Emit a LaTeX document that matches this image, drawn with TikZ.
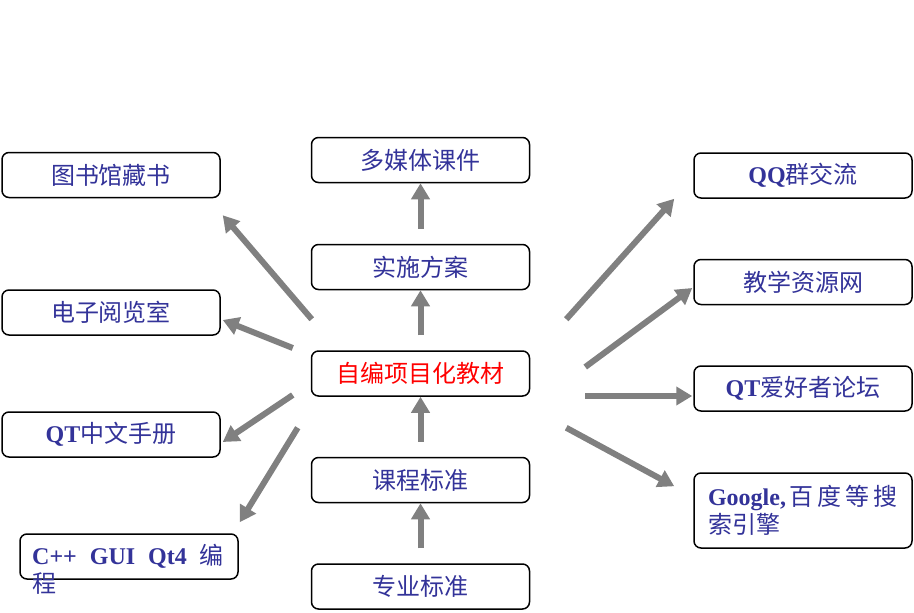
\documentclass[tikz,border=0pt]{standalone}
\usepackage{fontspec}
\setmainfont{Liberation Serif}
\newfontfamily\cjk{Noto Sans CJK SC}
\usetikzlibrary{arrows.meta}
\definecolor{txtblue}{RGB}{51,51,153}
\definecolor{arrowgray}{RGB}{128,128,128}
\newcommand{\zh}[1]{{\cjk #1}}
\newcommand{\en}[1]{{\bfseries #1}}
\tikzset{
  box/.style={rectangle, draw=black, line width=1.5pt, rounded corners=7pt,
    fill=white, minimum width=218pt, minimum height=45pt, inner sep=0,
    font=\fontsize{24}{28}\selectfont, text=txtblue},
  boxtext/.style={inner sep=0, font=\fontsize{24}{28}\selectfont, text=txtblue},
  feed/.style={draw=arrowgray, line width=6pt, -{Triangle[length=16pt, width=18pt]}},
}
\begin{document}
\begin{tikzpicture}[x=1pt, y=-1pt]
  \useasboundingbox (0,0) rectangle (914,613);

  % middle column
  \node[box] (mmcw) at (420.5,160) {\zh{多媒体课件}};
  \node[box] (plan) at (420.5,267) {\zh{实施方案}};
  \node[box, text=red] (book) at (420.5,373.5) {\zh{自编项目化教材}};
  \node[box] (kcbz) at (420.5,480) {\zh{课程标准}};
  \node[box] (zybz) at (420.5,586.5) {\zh{专业标准}};

  % left column
  \node[box] (lib) at (111,175) {\zh{图书馆藏书}};
  \node[box] (ely) at (111,312.5) {\zh{电子阅览室}};
  \node[box] (qtman) at (111,434.5) {\en{QT}\zh{中文手册}};
  \node[box] (cppbook) at (129,556.5) {};
  \node[boxtext, anchor=base west] (cppline1) at (32,564)
    {\en{C++}\hspace{13pt}\en{GUI}\hspace{13pt}\en{Qt4}\hspace{13pt}\zh{编}};
  \node[boxtext, anchor=base west] (cppline2) at (32,592) {\zh{程}};

  % right column
  \node[box] (qq) at (803,175.5) {\en{QQ}\zh{群交流}};
  \node[box] (wangzhan) at (803,282) {\zh{教学资源网}};
  \node[box] (forum) at (803,388.5) {\en{QT}\zh{爱好者论坛}};
  \node[box, minimum height=75pt, text width=190pt, align=left] (search) at (803,510.5)
    {\en{Google,}\zh{\,百\hspace{4pt}度\hspace{4pt}等\hspace{4pt}搜}\\\zh{索引擎}};

  % upward arrows
  \draw[feed, shorten <=15pt] (zybz.north) -- (kcbz.south);
  \draw[feed, shorten <=15pt] (kcbz.north) -- (book.south);
  \draw[feed, shorten <=15pt] (book.north) -- (plan.south);
  \draw[feed, shorten <=15pt] (plan.north) -- (mmcw.south);

  % arrows to the left
  \draw[feed] ([xshift=1pt, yshift=31pt]book.north west) -- ([xshift=2pt, yshift=-17pt]lib.south east);
  \draw[feed] ([xshift=-18pt, yshift=25.5pt]book.west) -- ([xshift=2pt, yshift=-7.5pt]ely.east);
  \draw[feed] ([xshift=-18pt, yshift=-21.5pt]book.west) -- ([xshift=2pt, yshift=-7.5pt]qtman.east);
  \draw[feed] ([xshift=-13pt, yshift=-31pt]book.south west) -- ([xshift=1pt, yshift=11pt]cppbook.north east);

  % arrows to the right
  \draw[feed] ([xshift=36pt, yshift=31pt]book.north east) -- ([xshift=-19pt]qq.south west);
  \draw[feed] ([xshift=55pt, yshift=6.5pt]book.east) -- ([xshift=-1pt, yshift=-6pt]wangzhan.west);
  \draw[feed] ([xshift=55pt, yshift=-22.5pt]book.east) -- ([xshift=-1pt, yshift=-7.5pt]forum.west);
  \draw[feed] ([xshift=36pt, yshift=-31pt]book.south east) -- ([xshift=-19pt, yshift=-14pt]search.north west);
\end{tikzpicture}
\end{document}
